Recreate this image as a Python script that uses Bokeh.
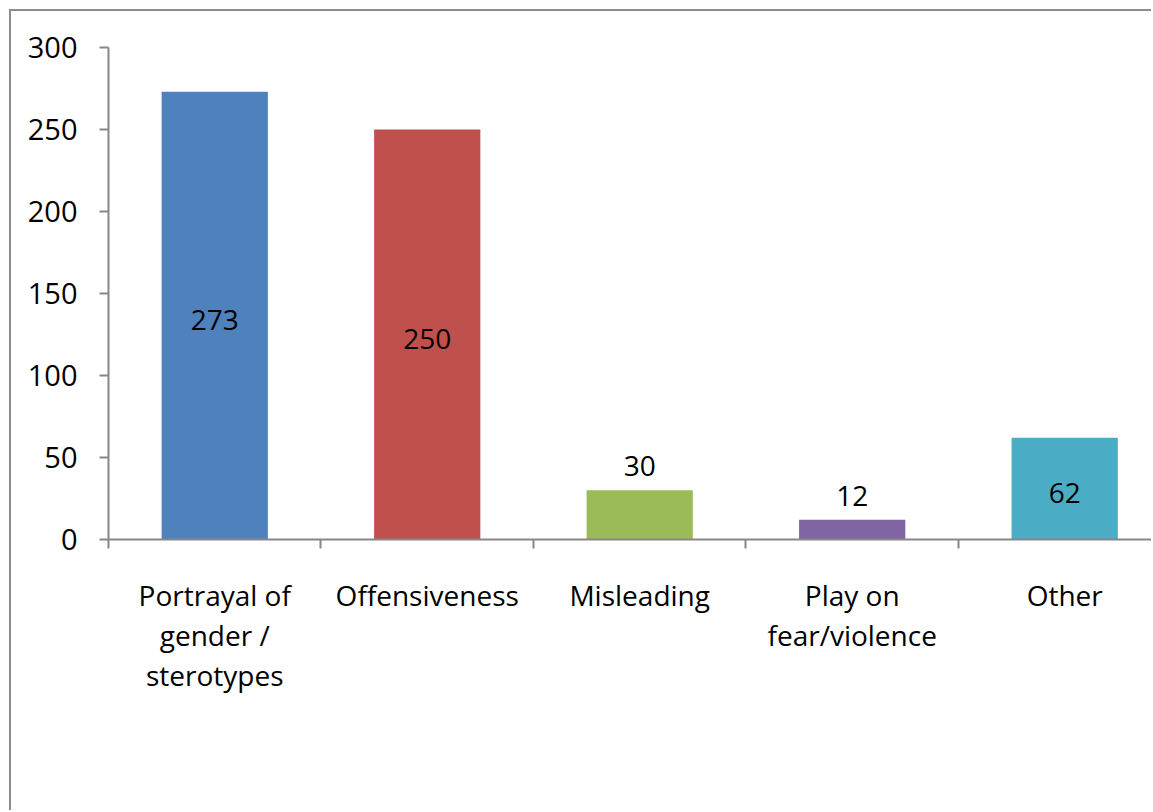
from bokeh.plotting import figure
from bokeh.models import (Range1d, LinearAxis, FixedTicker, ColumnDataSource)
from bokeh.core.properties import value
from bokeh.embed import file_html
from bokeh.resources import INLINE

categories = ["Portrayal of\ngender /\nsterotypes", "Offensiveness", "Misleading",
              "Play on\nfear/violence", "Other"]
counts = [273, 250, 30, 12, 62]
colors = ["#4F81BD", "#C0504D", "#9BBB59", "#8064A2", "#4BACC6"]
y_ticks = [0, 50, 100, 150, 200, 250, 300]

FONT = "Open Sans"
GRAY = "#878787"

xs = [i + 0.5 for i in range(len(categories))]
label_y = [v / 2 if v > 50 else v + 17 for v in counts]
src = ColumnDataSource(dict(x=xs, top=counts, color=colors,
                            label=[str(v) for v in counts], ly=label_y))

p = figure(width=1142, height=801, output_backend="svg", toolbar_location=None,
           x_range=Range1d(0, 4.918), y_range=Range1d(0, 316.5),
           x_axis_type=None, y_axis_type=None,
           min_border_left=97, min_border_right=0, min_border_top=9,
           min_border_bottom=273)
p.styles = {"margin-left": "9px", "margin-top": "9px",
            "border-left": "2px solid #8c8c8c", "border-top": "2px solid #8c8c8c"}
p.outline_line_color = None
p.background_fill_color = "white"
p.border_fill_color = "white"

# y axis
yax = LinearAxis(ticker=FixedTicker(ticks=y_ticks), bounds=(0, 300))
yax.axis_line_color = GRAY
yax.axis_line_width = 2
yax.major_tick_line_color = GRAY
yax.major_tick_line_width = 2
yax.major_tick_in = 0
yax.major_tick_out = 9
yax.minor_tick_line_color = None
yax.major_label_standoff = 22
yax.major_label_text_font = FONT
yax.major_label_text_font_size = "29px"
yax.major_label_text_color = "black"
p.add_layout(yax, "left")

# x axis with boundary ticks
xb = LinearAxis(ticker=FixedTicker(ticks=[0, 1, 2, 3, 4, 5]))
xb.axis_line_color = GRAY
xb.axis_line_width = 2
xb.major_tick_line_color = GRAY
xb.major_tick_line_width = 2
xb.major_tick_in = 0
xb.major_tick_out = 9
xb.minor_tick_line_color = None
xb.major_label_overrides = {t: "" for t in [0, 1, 2, 3, 4, 5]}
xb.major_label_text_font_size = "1px"
xb.major_label_standoff = 0
p.add_layout(xb, "below")

# x axis with category labels at centers
xl = LinearAxis(ticker=FixedTicker(ticks=xs))
xl.axis_line_color = None
xl.major_tick_line_color = None
xl.minor_tick_line_color = None
xl.major_tick_in = 0
xl.major_tick_out = 0
xl.major_label_overrides = {x: c for x, c in zip(xs, categories)}
xl.major_label_text_font = FONT
xl.major_label_text_font_size = "28px"
xl.major_label_text_color = "black"
xl.major_label_text_line_height = 1.06
xl.major_label_standoff = 27
p.add_layout(xl, "below")

p.ygrid.ticker = FixedTicker(ticks=y_ticks)
p.ygrid.grid_line_color = GRAY
p.ygrid.grid_line_width = 2
p.xgrid.grid_line_color = None

p.vbar(x="x", top="top", bottom=0, width=0.5, color="color", line_color=None, source=src)
p.text(x="x", y="ly", text="label", source=src, text_font=value(FONT),
       text_font_size="28px", text_align="center", text_baseline="middle",
       text_color="black", y_offset=4)

open("out.html", "w").write(file_html(p, INLINE))
